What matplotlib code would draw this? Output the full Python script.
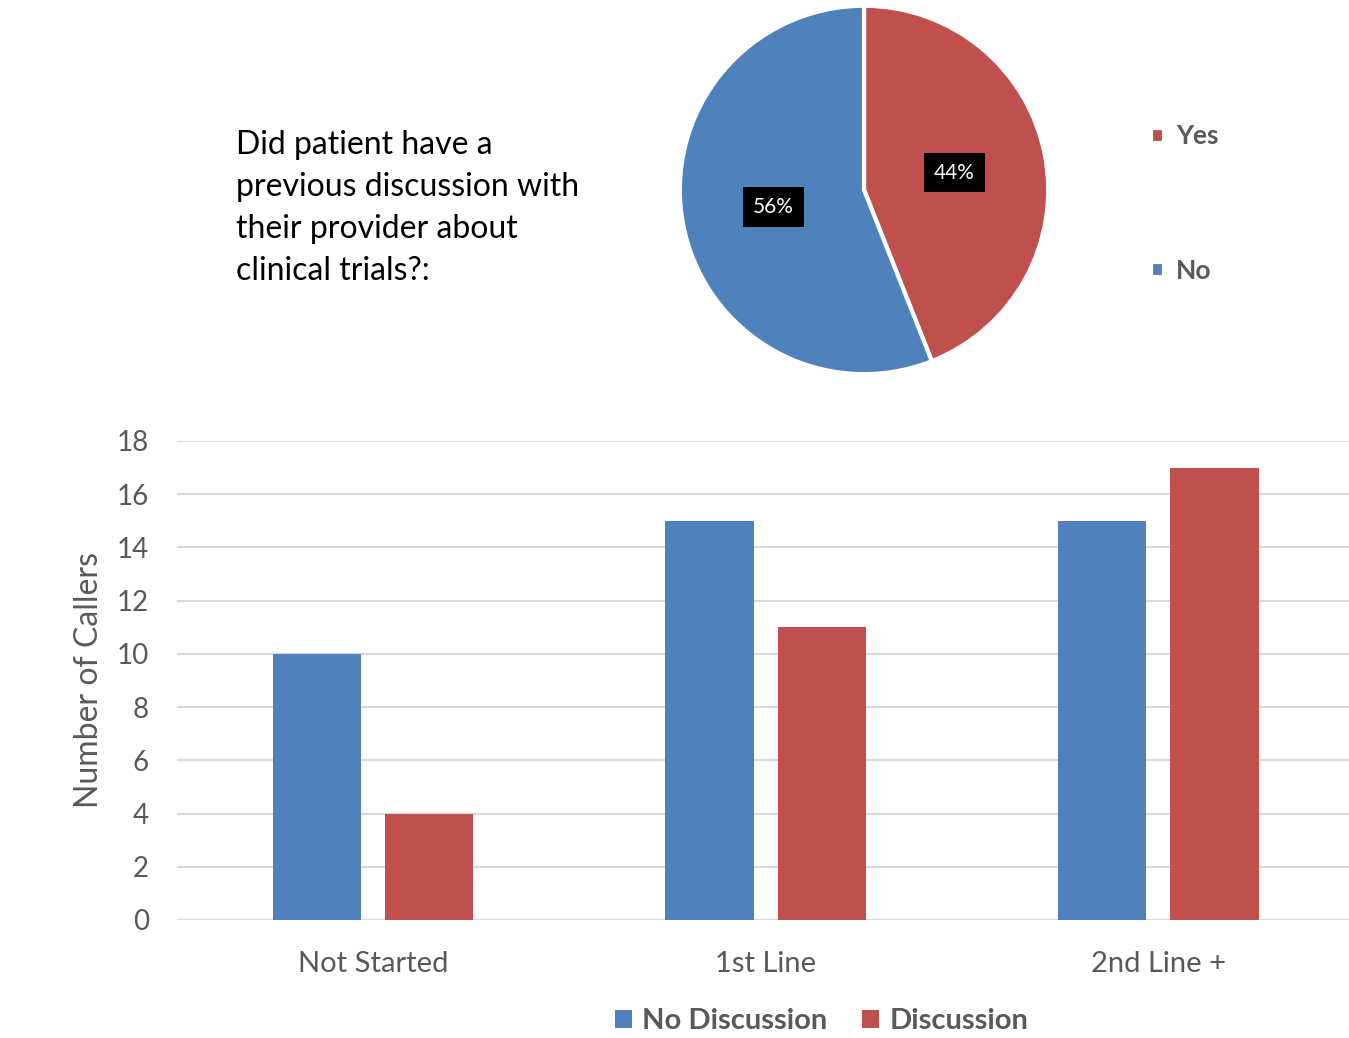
import matplotlib

matplotlib.use("Agg")
import matplotlib.pyplot as plt
import numpy as np

plt.rcParams["font.family"] = ["Lato", "DejaVu Sans"]

BLUE = "#4f81bd"
RED = "#c0504d"
GRAY = "#595959"

# pie: previous discussion with provider
pie_labels = ["Yes", "No"]
pie_values = [44, 56]
pie_colors = [RED, BLUE]
question = "Did patient have a\nprevious discussion with\ntheir provider about\nclinical trials?:"

# bars: callers by treatment line
categories = ["Not Started", "1st Line", "2nd Line +"]
no_discussion = [10, 15, 15]
discussion = [4, 11, 17]
y_ticks = [0, 2, 4, 6, 8, 10, 12, 14, 16, 18]

fig = plt.figure(figsize=(13.49, 10.38), dpi=100)

# --- pie ---
ax_pie = fig.add_axes([0.5026, 0.6378, 0.2758, 0.3584])
wedges, _, autotexts = ax_pie.pie(
    pie_values, colors=pie_colors, startangle=90, counterclock=False,
    autopct="%d%%", pctdistance=0.5, radius=1.0,
    wedgeprops=dict(edgecolor="white", linewidth=3),
    textprops=dict(color="white", fontsize=15),
)
for t in autotexts:
    t.set_bbox(dict(facecolor="black", edgecolor="none", pad=7))
ax_pie.set_xlim(-1.01, 1.01)
ax_pie.set_ylim(-1.01, 1.01)
ax_pie.set_aspect("equal")

leg = fig.legend(wedges, pie_labels, loc="upper left", bbox_to_anchor=(0.8355, 0.903),
                 frameon=False, fontsize=19, labelspacing=4.2, handlelength=0.5,
                 handleheight=0.5, handletextpad=0.45)
for t in leg.get_texts():
    t.set_color(GRAY)
    t.set_fontweight("bold")

fig.text(0.175, 0.875, question, fontsize=23, color="black", va="top", ha="left",
         linespacing=1.5)

# --- bars ---
ax = fig.add_axes([0.1309, 0.1137, 0.8733, 0.4615])
x = np.arange(len(categories))
w = 0.225
b1 = ax.bar(x - 0.143, no_discussion, w, color=BLUE, label="No Discussion", zorder=3)
b2 = ax.bar(x + 0.143, discussion, w, color=RED, label="Discussion", zorder=3)
ax.set_xlim(-0.5, 2.5)
ax.set_ylim(0, 18)
ax.set_yticks(y_ticks)
ax.set_xticks(x)
ax.set_xticklabels(categories)
ax.yaxis.grid(True, color="#d9d9d9", linewidth=1.5, zorder=0)
ax.tick_params(axis="both", length=0, labelsize=20, colors=GRAY)
ax.tick_params(axis="x", labelsize=21, pad=22)
ax.tick_params(axis="y", pad=20)
for s in ax.spines.values():
    s.set_visible(False)
ax.set_ylabel("Number of Callers", fontsize=23, color=GRAY, labelpad=9)

leg2 = fig.legend([b1, b2], ["No Discussion", "Discussion"], loc="center",
                  bbox_to_anchor=(0.609, 0.016), ncol=2, frameon=False, fontsize=21,
                  handlelength=0.58, handleheight=0.58, handletextpad=0.35,
                  columnspacing=1.2)
for t in leg2.get_texts():
    t.set_color(GRAY)
    t.set_fontweight("bold")

fig.savefig("out.png", dpi=100)
